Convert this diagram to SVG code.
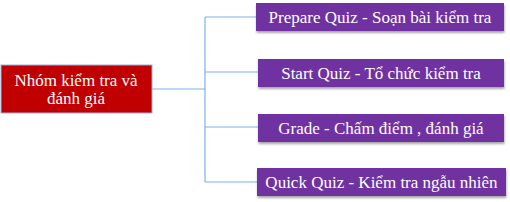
<svg xmlns="http://www.w3.org/2000/svg" width="510" height="202" viewBox="0 0 510 202">
<style>
.t{font-family:"Liberation Serif","Times New Roman",serif;fill:#fff;text-anchor:middle;font-size:17px}
.b{fill:#7030A0;filter:url(#sh)}
.c{stroke:#7EB0E6;stroke-width:1.2;fill:none}
</style>
<defs>
<filter id="sh" x="-5%" y="-20%" width="110%" height="160%">
<feDropShadow dx="0.5" dy="2" stdDeviation="1" flood-color="#000" flood-opacity="0.35"/>
</filter>
</defs>
<rect width="510" height="202" fill="#fff"/>
<g id="connectors">
<path class="c" d="M152 89H205M205 17V182M205 17H256M205 72H258M205 127H258M205 182H257"/>
</g>
<g id="root">
<rect x="1" y="65" width="151" height="48" fill="#C00000" stroke="#8EB4E3" stroke-width="1"/>
<text class="t" x="76" y="86">Nhóm kiểm tra và</text>
<text class="t" x="76" y="104">đánh giá</text>
</g>
<g id="n1">
<rect class="b" x="256" y="3" width="248" height="28"/>
<text class="t" x="380" y="22.5">Prepare Quiz - Soạn bài kiểm tra</text>
</g>
<g id="n2">
<rect class="b" x="258" y="59" width="246" height="28"/>
<text class="t" x="381" y="78.5">Start Quiz - Tổ chức kiểm tra</text>
</g>
<g id="n3">
<rect class="b" x="258" y="114" width="246" height="28"/>
<text class="t" x="381" y="133.5">Grade - Chấm điểm , đánh giá</text>
</g>
<g id="n4">
<rect class="b" x="257" y="168" width="249" height="28"/>
<text class="t" x="381.5" y="187.5">Quick Quiz - Kiểm tra ngẫu nhiên</text>
</g>
</svg>
